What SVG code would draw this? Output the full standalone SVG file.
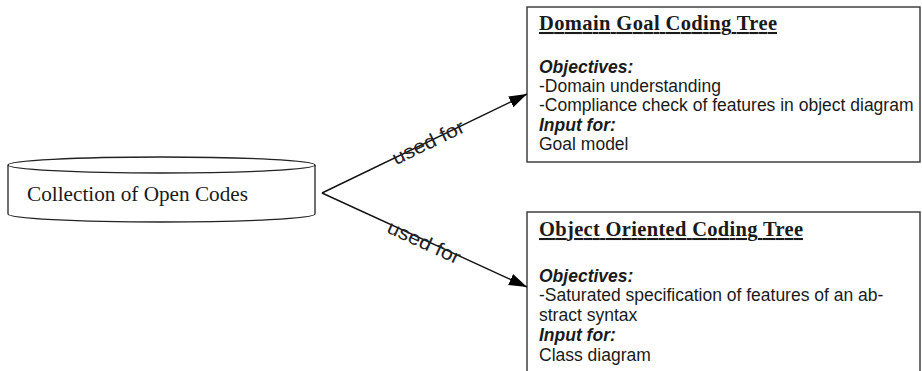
<svg xmlns="http://www.w3.org/2000/svg" width="922" height="371" viewBox="0 0 922 371">
<style>
.box{fill:#fff;stroke:#333;stroke-width:1.4}
.cyl{fill:#fff;stroke:#222;stroke-width:1.3}
.title{font-family:"Liberation Serif","Times New Roman",serif;font-weight:bold;font-size:20.5px;fill:#1a1a1a;text-decoration:underline}
.body{font-family:"Liberation Sans",Arial,sans-serif;font-size:17.5px;fill:#1a1a1a}
.head{font-weight:bold;font-style:italic}
.cyltext{font-family:"Liberation Serif","Times New Roman",serif;font-size:21px;fill:#1a1a1a}
.edge{fill:none;stroke:#111;stroke-width:1.4}
.lbl{font-family:"Liberation Sans",Arial,sans-serif;font-size:19.5px;fill:#222}
</style>
<defs>
<marker id="arrow" markerUnits="userSpaceOnUse" markerWidth="20" markerHeight="14" refX="18" refY="6" orient="auto">
<path d="M0,0 L18,6 L0,12 z" fill="#000"/>
</marker>
</defs>
<rect width="922" height="371" fill="#fff"/>

<g id="open-codes">
<path class="cyl" d="M8,165 L8,214 A153.5,8 0 0 0 315,214 L315,165"/>
<ellipse class="cyl" cx="161.5" cy="165" rx="153.5" ry="8"/>
<text class="cyltext" x="27" y="201" textLength="221" lengthAdjust="spacingAndGlyphs">Collection of Open Codes</text>
</g>

<g id="domain-goal-tree">
<rect class="box" x="527" y="7" width="393" height="155"/>
<text class="title" x="539" y="30" textLength="238" lengthAdjust="spacing">Domain Goal Coding Tree</text>
<text class="body head" x="539" y="72.5">Objectives:</text>
<text class="body" x="539" y="92">-Domain understanding</text>
<text class="body" x="539" y="111">-Compliance check of features in object diagram</text>
<text class="body head" x="539" y="130.5">Input for:</text>
<text class="body" x="539" y="150">Goal model</text>
</g>

<g id="object-oriented-tree">
<rect class="box" x="527" y="212" width="393" height="175"/>
<text class="title" x="539" y="236" textLength="264" lengthAdjust="spacing">Object Oriented Coding Tree</text>
<text class="body head" x="539" y="281.5">Objectives:</text>
<text class="body" x="539" y="301">-Saturated specification of features of an ab-</text>
<text class="body" x="539" y="321">stract syntax</text>
<text class="body head" x="539" y="340.5">Input for:</text>
<text class="body" x="539" y="361">Class diagram</text>
</g>

<g id="connectors">
<path class="edge" d="M322,193 L527,94" marker-end="url(#arrow)"/>
<path class="edge" d="M322,193 L527,287" marker-end="url(#arrow)"/>
<text class="lbl" transform="translate(428,142) rotate(-25.8)" x="0" y="7" text-anchor="middle" textLength="78" lengthAdjust="spacingAndGlyphs">used for</text>
<text class="lbl" transform="translate(425,240) rotate(24.5)" x="0" y="9" text-anchor="middle" textLength="78" lengthAdjust="spacingAndGlyphs">used for</text>
</g>
</svg>
